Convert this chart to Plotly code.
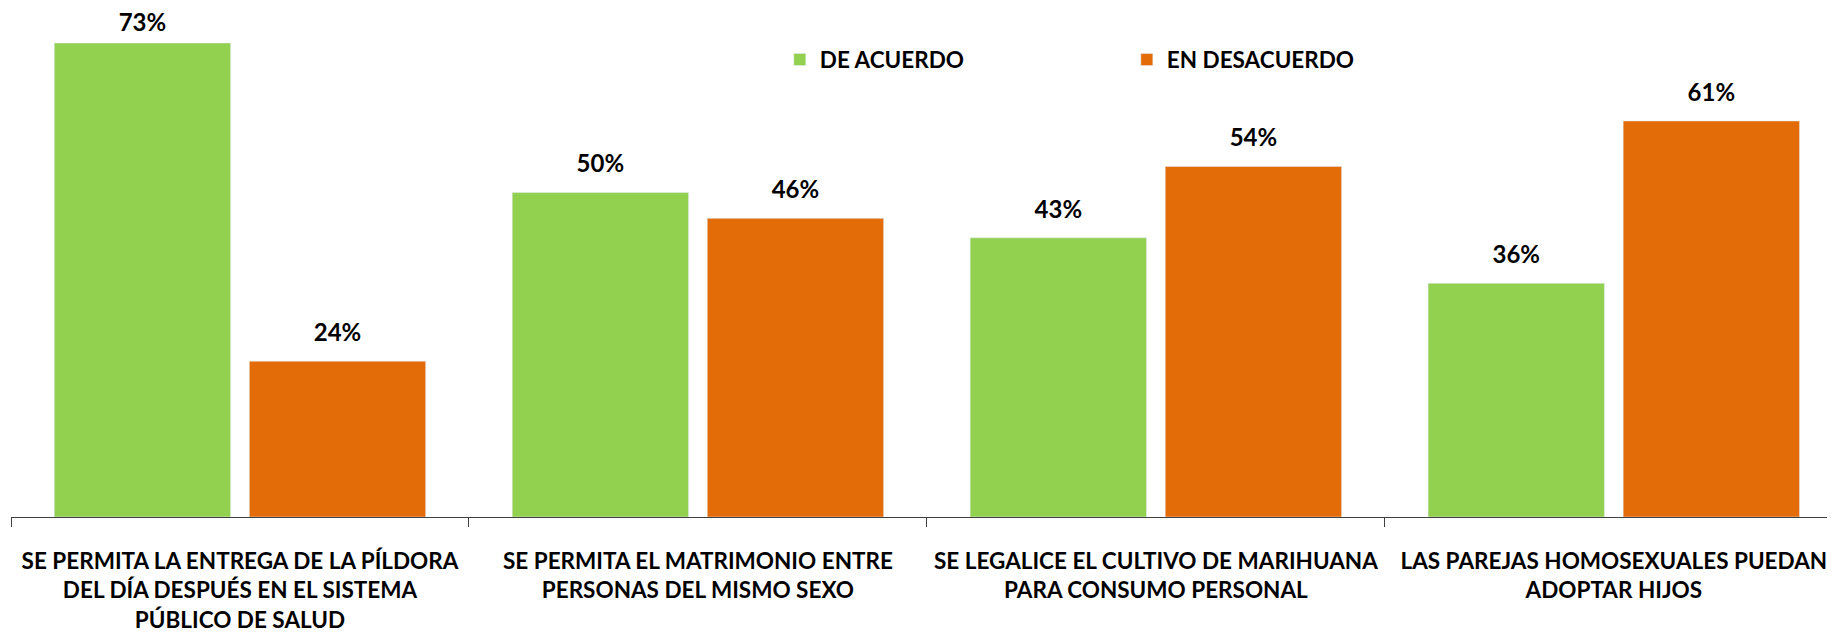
import plotly.graph_objects as go

categories = [
    "SE PERMITA LA ENTREGA DE LA PÍLDORA<br>DEL DÍA DESPUÉS EN EL SISTEMA<br>PÚBLICO DE SALUD",
    "SE PERMITA EL MATRIMONIO ENTRE<br>PERSONAS DEL MISMO SEXO",
    "SE LEGALICE EL CULTIVO DE MARIHUANA<br>PARA CONSUMO PERSONAL",
    "LAS PAREJAS HOMOSEXUALES PUEDAN<br>ADOPTAR HIJOS",
]
de_acuerdo = [73, 50, 43, 36]
en_desacuerdo = [24, 46, 54, 61]

GREEN = "#92D050"
ORANGE = "#E36C09"
FONT = "Lato"

fig = go.Figure()
series = [("DE ACUERDO", de_acuerdo, GREEN), ("EN DESACUERDO", en_desacuerdo, ORANGE)]
for i, (name, vals, col) in enumerate(series):
    fig.add_trace(go.Bar(
        x=categories, y=vals, name=name, marker_color=col,
        offsetgroup=str(i),
    ))
# label offsets above bars (the tallest label sits closer, as in the original)
label_pad = [[8, 21, 21, 21], [21, 21, 21, 21]]
for i, (name, vals, col) in enumerate(series):
    fig.add_trace(go.Scatter(
        x=categories, y=vals, mode="markers+text", showlegend=False,
        offsetgroup=str(i),
        marker=dict(size=label_pad[i], opacity=0),
        text=[f"{v}%" for v in vals], textposition="top center",
        textfont=dict(family=FONT, size=24, color="black", weight="bold"),
        cliponaxis=False, hoverinfo="skip",
    ))

# page body has an 8px default margin; figure sized to fit the window
fig.update_layout(
    width=1827, height=628,
    margin=dict(l=3, r=0, t=0, b=119, autoexpand=False),
    plot_bgcolor="white", paper_bgcolor="white",
    barmode="group", bargap=0.148, bargroupgap=0.096,
    scattermode="group", scattergap=0.148,
    font=dict(family=FONT, size=22.5, color="black", weight="bold"),
    showlegend=True,
    legend=dict(orientation="h", x=0.4215, xanchor="left", y=0.898, yanchor="middle",
                entrywidth=302, entrywidthmode="pixels", itemwidth=30,
                font=dict(family=FONT, size=22.5, color="black", weight="bold"),
                bgcolor="rgba(0,0,0,0)"),
)
fig.update_xaxes(showline=True, linecolor="#404040", linewidth=1, automargin=False,
                 range=[-0.5, 3.483],
                 ticks="outside", tickson="boundaries", ticklen=9, tickcolor="#404040",
                 ticklabelstandoff=24, tickangle=0,
                 tickfont=dict(family=FONT, size=22.5, color="black", weight="bold"))
fig.update_yaxes(range=[0, 78.4], visible=False, showgrid=False, automargin=False)

fig.write_html("out.html")
